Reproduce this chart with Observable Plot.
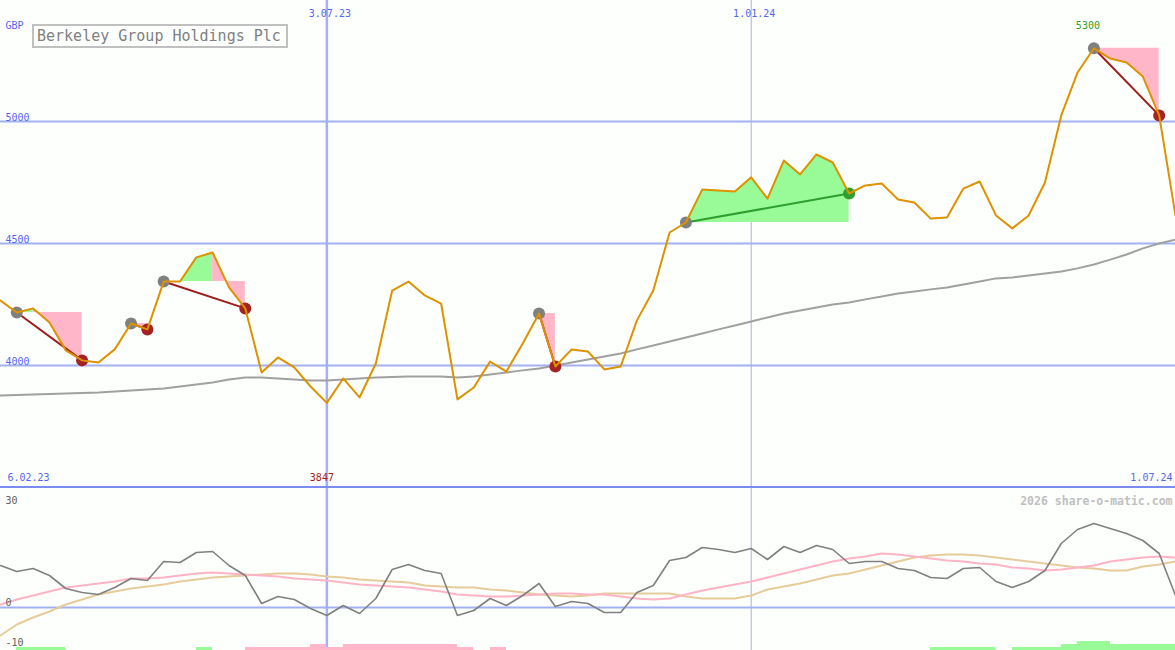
<!DOCTYPE html>
<html><head><meta charset="utf-8">
<script src="https://cdn.jsdelivr.net/npm/d3@7"></script>
<script src="https://cdn.jsdelivr.net/npm/@observablehq/plot@0.6"></script>
<style>
body{margin:0;background:#fdfffd;}
#chart{position:relative;width:1175px;height:650px;overflow:hidden;background:#fdfffd;}
#chart svg{display:block;}
#title{position:absolute;left:32px;top:24px;width:249px;height:20px;border:2px solid #c0c0c0;font:15px "DejaVu Sans Mono",monospace;color:#808080;line-height:20px;padding-left:3px;white-space:nowrap;background:#fdfffd;}
</style></head><body><div id="chart"></div>
<script>
// ---- data ----
const title = "Berkeley Group Holdings Plc";
const currency = "GBP";
const credit = "2026 share-o-matic.com";
const firstWeek = new Date(Date.UTC(2023, 1, 13));
const lastWeek = new Date(Date.UTC(2024, 6, 1));
const weeks = d3.utcMonday.range(firstWeek, d3.utcDay.offset(lastWeek, 1));
const dateTicks = [new Date(Date.UTC(2023, 6, 3)), new Date(Date.UTC(2024, 0, 1))];
const dateTickLabels = ["3.07.23", "1.01.24"];
const startLabel = "6.02.23";
const endLabel = "1.07.24";
const priceTicks = [4000, 4500, 5000];
const oscTicks = [30, 0, -10];

const price = [4266, 4217, 4234, 4176, 4062, 4021, 4012, 4066, 4172, 4148,
  4344, 4344, 4443, 4463, 4320, 4234, 3971, 4033, 3992, 3914,
  3847, 3947, 3869, 4008, 4307, 4344, 4287, 4254, 3861, 3910,
  4016, 3975, 4090, 4213, 3996, 4066, 4057, 3984, 3996, 4185,
  4307, 4545, 4586, 4721, 4717, 4713, 4771, 4684, 4840, 4783,
  4865, 4832, 4705, 4738, 4746, 4680, 4668, 4602, 4607, 4725,
  4754, 4615, 4562, 4615, 4750, 5025, 5201, 5300, 5258, 5242,
  5184, 5025, 4615];
const movingAvg = [3877, 3879, 3881, 3883, 3885, 3887, 3889, 3893, 3898, 3902,
  3906, 3914, 3922, 3930, 3943, 3951, 3951, 3947, 3943, 3939,
  3939, 3943, 3947, 3951, 3953, 3955, 3955, 3955, 3951, 3955,
  3963, 3971, 3980, 3988, 4000, 4012, 4025, 4037, 4049, 4066,
  4082, 4098, 4115, 4131, 4148, 4164, 4180, 4197, 4213, 4225,
  4238, 4250, 4258, 4271, 4283, 4295, 4303, 4312, 4320, 4332,
  4344, 4357, 4361, 4369, 4377, 4385, 4398, 4414, 4434, 4455,
  4480, 4500, 4516];
const oscillator = [10.5, 9, 9.75, 8, 4.75, 3.75, 3.25, 5, 7.25, 6.75,
  11.5, 11.25, 13.75, 14, 10.5, 8, 1, 2.75, 2, -0.25,
  -2, 0.5, -1.5, 2.25, 9.5, 10.75, 9.25, 8.5, -2, -0.75,
  2.25, 0.5, 3, 6, 0.25, 1.5, 1, -1.25, -1.25, 3.75,
  5.5, 11.75, 12.5, 15, 14.5, 13.75, 14.75, 12, 15.25, 13.75,
  15.5, 14.5, 11, 11.5, 11.5, 9.75, 9.25, 7.5, 7.25, 9.75,
  10, 6.5, 5, 6.5, 9.25, 16, 19.5, 21, 19.75, 18.5,
  16.75, 13.5, 3];
const oscFast = [0.75, 2, 3, 4, 5, 5.5, 6, 6.5, 7.25, 7.25,
  7.5, 8, 8.5, 8.75, 8.5, 8.25, 8, 7.75, 7.25, 7,
  6.75, 6.25, 5.75, 5.5, 5.25, 5, 4.5, 4, 3.25, 3,
  2.75, 2.75, 3, 3.25, 3.5, 3.5, 3.25, 3.25, 2.75, 2.25,
  2, 2.25, 3.25, 4.25, 5, 5.75, 6.5, 7.5, 8.5, 9.5,
  10.5, 11.5, 12.25, 12.75, 13.5, 13.25, 12.75, 12.25, 11.75, 11.5,
  11, 10.75, 10, 9.75, 9.25, 9.5, 10, 10.5, 11.5, 12,
  12.5, 12.75, 12.5];
const oscSlow = [-7, -4.25, -2.5, -1, 0.75, 2, 3.25, 4, 4.75, 5.25,
  5.75, 6.5, 7, 7.5, 7.75, 8, 8.25, 8.5, 8.5, 8.25,
  7.75, 7.5, 7, 6.75, 6.5, 6.25, 5.5, 5.25, 5, 5,
  4.5, 4.25, 3.75, 3.25, 3, 2.75, 3, 3.5, 3.5, 3.5,
  3.5, 3.5, 2.75, 2.25, 2.25, 2.25, 3, 4.5, 5.25, 6,
  7, 8, 8.5, 9.5, 10.5, 11.5, 12.5, 13, 13.25, 13.25,
  13, 12.5, 12, 11.5, 11, 10.5, 10, 9.75, 9.25, 9.25,
  10.25, 10.75, 11.5];
const trendBars = [0, 1, 1, 1, 0, 0, 0, 0, 0, 0,
  0, 0, 1, 0, 0, -1, -1, -1, -1, -2,
  -1, -2, -2, -2, -2, -2, -2, -2, -1, 0,
  -1, 0, 0, 0, 0, 0, 0, 0, 0, 0,
  0, 0, 0, 0, 0, 0, 0, 0, 0, 0,
  0, 0, 0, 0, 0, 0, 0, 1, 1, 1,
  1, 0, 1, 1, 1, 2, 3, 3, 2, 2,
  2, 2, 0];
// signal trades (week indices)
const sigStart = [1, 8, 10, 33, 42, 67];
const sigPeak  = [2, 8, 13, 33, 52, 67];
const sigEnd   = [5, 9, 15, 34, 52, 71];

// ---- derived tables ----
const rows = weeks.map((d, i) => ({date: d, next: d3.utcDay.offset(d, 7), price: price[i], ma: movingAvg[i],
  osc: oscillator[i], fast: oscFast[i], slow: oscSlow[i], bar: trendBars[i]}));
const signals = sigStart.map((s, i) => ({x1: weeks[s], y1: price[s], x2: weeks[sigEnd[i]], y2: price[sigEnd[i]],
  color: price[sigEnd[i]] > price[s] ? "#2e9e2e" : "#a01c1c",
  dot: price[sigEnd[i]] > price[s] ? "#2e9e2e" : "#a52222"}));
const greenRows = sigStart.flatMap((s, i) => d3.range(s, sigPeak[i] + 1).map(k => ({id: i, date: weeks[k], level: price[s], price: price[k]})));
const pinkRows = sigStart.flatMap((s, i) => d3.range(sigPeak[i], sigEnd[i] + 1).map(k => ({id: i, date: weeks[k], level: price[s], price: price[k]})));
const iMax = d3.maxIndex(price), iMin = d3.minIndex(price);
const ticks = dateTicks.map((d, i) => ({date: d, label: dateTickLabels[i]}));

const FONT = "DejaVu Sans Mono";
const BLUE = "#5566ee";
const GRID = "#a3b1f2";
const xScale = {type: "utc", domain: [weeks[0], weeks[weeks.length - 1]], axis: null};
const bg = "#fdfffd";

const main = Plot.plot({
  width: 1175, height: 488, marginTop: 0, marginBottom: 1, marginLeft: 0, marginRight: 0,
  x: xScale,
  y: {domain: [3500, 5495.9], axis: null},
  style: {background: bg},
  marks: [
    Plot.ruleY(priceTicks, {stroke: GRID, strokeWidth: 2}),
    Plot.ruleX([dateTicks[0]], {stroke: GRID, strokeWidth: 2.5}),
    Plot.ruleX([dateTicks[1]], {stroke: "#aab3d6", strokeWidth: 1}),
    Plot.ruleY([3500], {stroke: "#7b8cf0", strokeWidth: 3}),
    Plot.areaY(greenRows, {x: "date", y1: "level", y2: "price", z: "id", fill: "#98fb98"}),
    Plot.areaY(pinkRows, {x: "date", y1: "level", y2: "price", z: "id", fill: "#ffb6c8"}),
    Plot.line(rows, {x: "date", y: "ma", stroke: "#a0a0a0", strokeWidth: 2}),
    Plot.link(signals, {x1: "x1", y1: "y1", x2: "x2", y2: "y2", stroke: "color", strokeWidth: 2}),
    Plot.dot(signals, {x: "x1", y: "y1", r: 6, fill: "#808080"}),
    Plot.dot(signals, {x: "x2", y: "y2", r: 6, fill: "dot"}),
    Plot.line(rows, {x: "date", y: "price", stroke: "#dd9200", strokeWidth: 2}),
    Plot.text(priceTicks, {frameAnchor: "left", y: d => d, text: d => String(d), textAnchor: "start", dx: 5, dy: -4, fill: BLUE, fontSize: 10, fontFamily: FONT}),
    Plot.text([currency], {frameAnchor: "top-left", textAnchor: "start", dx: 5, dy: 21.5, fill: BLUE, fontSize: 10, fontFamily: FONT}),
    Plot.text(ticks, {x: "date", text: "label", frameAnchor: "top", dx: 3, dy: 9.5, fill: BLUE, fontSize: 10, fontFamily: FONT}),
    Plot.text([price[iMax]], {x: () => weeks[iMax], text: d => String(d), frameAnchor: "top", dx: -6, dy: 21.5, fill: "#2e9e2e", fontSize: 10, fontFamily: FONT}),
    Plot.text([price[iMin]], {x: () => weeks[iMin], text: d => String(d), frameAnchor: "bottom", dx: -5, dy: -7, fill: "#a01c1c", fontSize: 10, fontFamily: FONT}),
    Plot.text([startLabel], {frameAnchor: "bottom-left", textAnchor: "start", dx: 7, dy: -7, fill: BLUE, fontSize: 10, fontFamily: FONT}),
    Plot.text([endLabel], {frameAnchor: "bottom-right", textAnchor: "end", dx: -3, dy: -7, fill: BLUE, fontSize: 10, fontFamily: FONT})
  ]
});

const yLow = -10.75;
const lower = Plot.plot({
  width: 1175, height: 162, marginTop: 0, marginBottom: 0, marginLeft: 0, marginRight: 0,
  x: xScale,
  y: {domain: [yLow, 29.75], axis: null},
  style: {background: bg},
  marks: [
    Plot.ruleY([0], {stroke: GRID, strokeWidth: 2}),
    Plot.ruleX([dateTicks[0]], {stroke: GRID, strokeWidth: 2.5}),
    Plot.ruleX([dateTicks[1]], {stroke: "#aab3d6", strokeWidth: 1}),
    Plot.rectY(rows.filter(d => d.bar !== 0), {x1: "date", x2: "next", y1: () => yLow, y2: d => yLow + Math.abs(d.bar) * 0.75,
      fill: d => d.bar > 0 ? "#98fb98" : "#ffb6c8", shapeRendering: "crispEdges"}),
    Plot.line(rows, {x: "date", y: "slow", stroke: "#e6cc9a", strokeWidth: 2}),
    Plot.line(rows, {x: "date", y: "fast", stroke: "#ffb3c6", strokeWidth: 2}),
    Plot.line(rows, {x: "date", y: "osc", stroke: "#808080", strokeWidth: 1.6}),
    Plot.text(oscTicks.filter(v => v < 30), {frameAnchor: "left", y: d => d, text: d => String(d), textAnchor: "start", dx: 5, dy: -4.5, fill: "#606060", fontSize: 10, fontFamily: FONT}),
    Plot.text(oscTicks.filter(v => v >= 30), {frameAnchor: "top-left", text: d => String(d), textAnchor: "start", dx: 5, dy: 8, fill: "#606060", fontSize: 10, fontFamily: FONT}),
    Plot.text([credit], {frameAnchor: "top-right", textAnchor: "end", dx: -3, dy: 8.3, fill: "#c0c0c0", fontSize: 11.5, fontWeight: "bold", fontFamily: FONT})
  ]
});

const chart = document.getElementById("chart");
chart.appendChild(main);
chart.appendChild(lower);
const t = document.createElement("div");
t.id = "title";
t.textContent = title;
chart.appendChild(t);
</script></body></html>
